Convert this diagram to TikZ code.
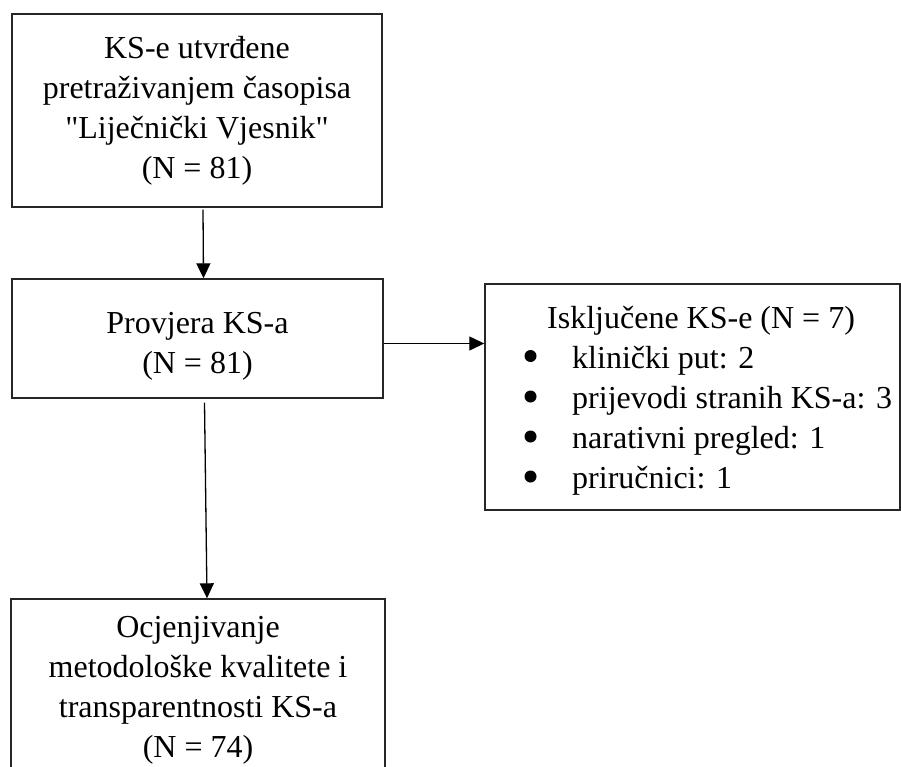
\documentclass[tikz,border=0pt]{standalone}
\usepackage{fontspec}
\setmainfont{Liberation Serif}[Ligatures=TeXOff]
\usetikzlibrary{arrows.meta}
\newcommand{\bulgap}{\hspace*{48pt}}
\begin{document}
\begin{tikzpicture}[x=1pt,y=-1pt,
  box/.style={draw=black!85, line width=1.4pt, inner sep=0pt, align=center,
    font=\fontsize{32}{40}\selectfont},
  arr/.style={line width=1.3pt, -{Triangle[length=15pt,width=14pt]}},
  txt/.style={inner sep=0pt, font=\fontsize{32}{40}\selectfont},
  bul/.style={fill=black}]
\useasboundingbox (0,0) rectangle (901,767);
\node[box, minimum width=370pt, minimum height=193pt] (b1) at (197,110.5)
  {KS-e utvrđene\\pretraživanjem časopisa\\"Liječnički Vjesnik"\\(N = 81)};
\node[box, minimum width=371pt, minimum height=119pt] (b2) at (197.5,338.5) {};
\node[txt, align=center] (b2t) at (197.5,346) {Provjera KS-a\\(N = 81)};
\node[box, minimum width=415pt, minimum height=226pt] (ex) at (692.5,397) {};
\node[txt, anchor=west, align=left] (exlist) at (524,401)
  {\hspace*{23pt}Isključene KS-e (N = 7)\\
   \bulgap klinički put: 2\\
   \bulgap prijevodi stranih KS-a: 3\\
   \bulgap narativni pregled: 1\\
   \bulgap priručnici: 1};
\foreach \yy in {356,396.5,436.5,476.5} \fill[bul] (530.5,\yy) circle (6pt);
\node[box, minimum width=374pt, minimum height=182pt] (b4) at (198,690)
  {Ocjenjivanje\\metodološke kvalitete i\\transparentnosti KS-a\\(N = 74)};
\draw[arr] ([xshift=6pt,yshift=-2pt]b1.south) -- ([xshift=6pt]b2.north);
\draw[arr] ([yshift=-5pt]b2.east) -- ([yshift=-5pt]b2.east -| ex.west);
\draw[arr] ([xshift=7pt,yshift=-4pt]b2.south) -- ([xshift=9pt]b4.north);
\end{tikzpicture}
\end{document}
